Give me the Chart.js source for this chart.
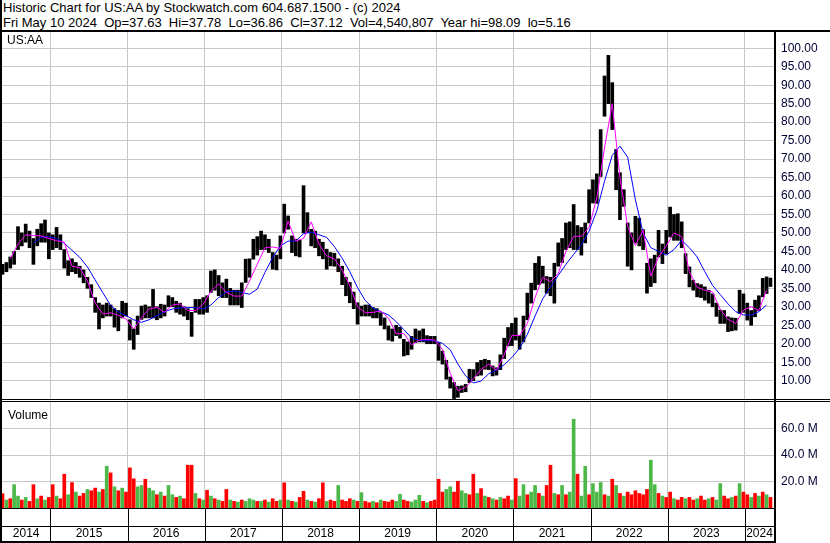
<!DOCTYPE html>
<html><head><meta charset="utf-8">
<script src="https://cdn.jsdelivr.net/npm/chart.js@4"></script>
<style>
html,body{margin:0;padding:0;background:#fff;}
#wrap{position:relative;width:830px;height:543px;overflow:hidden;font-family:"Liberation Sans",Arial,sans-serif;background:#fff;}
.hdr{position:absolute;left:3px;font-size:13px;line-height:15px;white-space:pre;color:#000;}
.ln{position:absolute;background:#000;}
canvas{position:absolute;left:0;}
</style></head><body>
<div id="wrap">
<div class="hdr" style="top:0px">Historic Chart for US:AA by Stockwatch.com 604.687.1500 - (c) 2024</div>
<div class="hdr" style="top:15px">Fri May 10 2024  Op=37.63  Hi=37.78  Lo=36.86  Cl=37.12  Vol=4,540,807  Year hi=98.09  lo=5.16</div>
<canvas id="pc" width="830" height="368" style="top:32px;width:830px;height:368px"></canvas>
<canvas id="vc" width="830" height="143" style="top:400px;width:830px;height:143px"></canvas>
<div class="ln" style="left:0;top:30px;width:830px;height:2px"></div>
<div class="ln" style="left:0;top:0;width:2px;height:543px"></div>
</div>
<script>
// ---- data ----
const barStart = 2014.38, barStep = 0.05;   // one bar per 0.05 year
const maStart = 2014.38, maStep = 0.1;
const priceHi = [
41.5,42,43.5,45,51.7,50,52.4,50.5,48.5,51,
52.5,53.5,50,49.5,51.5,49.5,45.5,42.5,43,42,
41,40,38,36,32.5,31,30.5,31,30.5,29.5,
29,31.5,31,26.5,24,27.5,30.2,30.5,30,34.7,
30,30.7,30.5,33,32.5,31.5,31,30,29.5,28.5,
32,32,32.5,33,39.7,40,38.5,36.5,37.5,35,
34.5,34.5,36.5,42.9,43,48.3,49,50.5,49.5,48.3,
44.7,44,49.2,57.8,54.6,49.2,48.3,48,62.8,55.5,
51,50.5,48.3,47.5,45.6,44.7,44.5,43,41,38,
36.6,34,31.1,30.2,30.5,30.5,29.8,29.5,28.4,27,
24.8,24,25,24.5,21.2,20.5,22,24,23.5,24,
22.2,22,22,20.3,18,15.5,11,9.5,8.5,8.6,
9,13.1,13,14.9,15.5,15.8,15.5,14,13.5,17,
21.5,24.4,25.5,27,22.2,27.5,33.7,36.4,41.8,43.6,
41,38.2,38,41.8,47.3,48.5,52.7,53,57.7,52,
51.5,52.7,61.7,64.4,66,78,92.5,98.09,90.7,72.6,
66.3,61.7,52.7,50,54.5,54,50.9,41.8,43,44,
50.7,47,50.7,57,55,55.2,53,44.4,40.8,37.2,
36.3,36,35.4,34.5,33.5,31,29.1,29,27.3,27,
26.9,34.5,33.5,31,29,31.8,33,37.7,38.1,37.78];
const priceLo = [
38.8,39.5,40.5,41.5,45.5,46.5,47.5,46,41.5,46.5,
47.5,47.5,43,45.5,46,45.5,40.5,38.5,39.5,39,
38,36.5,35,32.5,28.5,24,27,27.5,27.5,24.5,
23.5,27,27.5,21,18.5,22.5,26.6,27,27,27,
26.5,27,27.5,30,30,28.5,28,27.5,26.5,22,
28.5,28,28,28.5,33.9,34.5,33,32.5,32.5,30.5,
30.5,30.5,29.8,36.6,38,42.9,44,45.5,45.5,44.7,
40.2,40,43,50,51,44.7,43.8,43.5,50,50.1,
46.5,46,43.8,43,40.2,41.1,41,39.5,36,33,
31.1,29.5,25.3,27.5,27.5,27.5,27,27,25,24,
21,20.7,22.2,21.5,16.7,17,18.5,20.3,20.5,20.5,
20,20,20,15.5,14.5,10.4,8,5.16,5.5,6.8,
7,9.5,10,11.3,11.5,13.1,13,11.3,11.5,13,
16,19.4,19.5,21,18.5,20.5,26.5,31,34.6,36,
36.4,33.7,33,31,41,42,45.5,46,45.5,45.5,
44,47.3,52.7,58.1,58,65.3,81.6,85,78,61.7,
53.6,57.2,41,40,47.3,46.5,45.5,33.7,35.5,36.5,
43.5,41.7,44.4,48.9,48,48,46,39,35.4,34.5,
32.7,32.5,31.8,31,30,27.4,25.5,25.5,23.3,23.5,
23.7,28.2,28.5,26.4,25,27.3,29,32.7,33.6,35.5];
const maFast = [
null,43,47,49.5,49.3,49.2,48.5,47.9,47.5,41,
40.6,37,31,28,28.4,27.7,26.7,24,27,29.5,
29.8,28.5,30.5,30.8,29,29,30.7,34.2,36.2,33.9,
32.9,32.9,37,41.5,46,46.2,45.8,53.2,47.8,48.5,
53,47,43.8,43,40,35.7,30,28.4,28.5,28.9,
27,22.7,22.8,19.7,21,21.2,21,18.5,12,7.3,
8.2,10.5,13,14.5,12.8,17,22.3,22.2,25.5,32.5,
38,36.8,39,45,49.1,49.1,51.5,59.5,73,85,
65,51.7,46.6,50.8,38.3,43.5,46.5,50,49,39.5,
35.3,34.5,34,29.3,26.6,25.5,29.1,30,29,34.5];
const maSlow = [
null,null,null,null,47.2,48.8,49,48.5,47.2,45.3,
43.4,40.8,37.3,33.8,30.4,28.6,27.6,26.5,25.8,26.5,
27.6,28.7,29.4,29.7,29.8,29.8,29.4,30.5,32.5,34,
34.3,33.9,33.4,34.8,39.3,43.3,46.5,47.8,47.8,49.8,
50.2,49.5,48.8,46.3,43.2,39.5,35.2,31.7,29.7,28.7,
27.8,26,23.8,21.6,20.9,20.8,20.8,20.1,18.4,14.5,
11.3,9.4,9.9,11.9,12.8,14.3,16.3,18.8,22.5,27.5,
32.2,35.3,38.5,41.5,44.2,46.8,50.5,56,64,71,
73.5,70.5,59,50,46,45,44,45.5,48,46,
43.5,39.5,35.8,33.3,30.8,28.7,27.8,27.8,28.7,30.5];
const volumeM = [
10.8,6,7,17.6,9,6,8,5,17.6,7,
9,6,8,17.6,9,7,25.5,10,19.2,12,
9,11,14,13,15,12,14,31.5,26.5,16,
13,15,12,30.3,22,16,17,21.7,15,13,
10,12,9,17,10,8,9,7,32.3,32.3,
11,7,6,13.4,9,7,6,5,14,6,
5,4.5,6,5,7,6,5,5,6,4.5,
7,5,6,19,6,5,4.5,8,12.6,6,
5,4.5,7,19,5,6,5,17,6,5,
7,6,5,11.6,5,4,5,4,6,5,
4.5,6,5,10.3,6,5,4.5,6,9.6,5,
4,5,6,21.7,12,14,16,12,20.2,13,
11,10,25.5,11,14.6,9,8,7,6,8,
7,9,6,22.2,9,17.6,10,12,17,11,
9,17,32.3,11,10,17,10,12,67,25.5,
9,31.5,10,18.4,12,19.2,10,9,21.7,17,
11,9,12,10,13,11,10,14,36.1,17.6,
11,9,8,12,7,6,8,7,8,6,
7,9,6,7,8,6,18.4,9,7,8,
9,18.4,12,10,8,11,9,12,10,8];
const volumeDir =
"rgrggrgrrg"+"rgrrgrrgrg"+"rrgrrgrgrg"+"rgrrrggrgg"+"rgrggrgrrr"+
"grgrgrgrrg"+"rgrgggrgrg"+"rrgrgrgrrg"+"rgrrgrrgrr"+"rgrgrrgrgr"+
"rrggrrgggr"+"grrrrggrrg"+"grrgrgrgrg"+"rrgrggrggr"+"grrgrgrggr"+
"ggrgggrgrg"+"rgrrrrrrgg"+"rgrrgrrgrr"+"grrgrggrrg"+"rgrrgrgrgr";
const priceTicks = [10,15,20,25,30,35,40,45,50,55,60,65,70,75,80,85,90,95,100];
const volumeTicks = [20,40,60];
const yearEdges = [2015,2016,2017,2018,2019,2020,2021,2022,2023,2024];
const yearLabels = ['2014','2015','2016','2017','2018','2019','2020','2021','2022','2023','2024'];
const xMin = 2014.373, xMax = 2024.376;

// ---- build ----
const FONT = '"Liberation Sans", Arial, sans-serif';
const bars = priceHi.map((h,i)=>({x: barStart+i*barStep, y:[priceLo[i], h]}));
const fast = maFast.map((v,k)=>({x: maStart+k*maStep, y:v}));
const slow = maSlow.map((v,k)=>({x: maStart+k*maStep, y:v}));
const vols = volumeM.map((v,i)=>({x: barStart+i*barStep, y:v}));
const volColors = volumeM.map((v,i)=> volumeDir[i]==='g' ? '#4cb847' : '#ff0000');

const xScale = {
  type:'linear', min:xMin, max:xMax, offset:false,
  grid:{color:'#c8c8c8', drawTicks:false, offset:false, lineWidth:1},
  border:{display:false},
  ticks:{display:false},
  afterBuildTicks(s){ s.ticks = yearEdges.map(v=>({value:v})); },
};

const priceFrame = {
  id:'priceFrame',
  afterDraw(c){
    const {ctx, chartArea:a} = c;
    ctx.save();
    ctx.fillStyle='#fff';
    ctx.fillRect(a.left, a.top, 47, 15);
    ctx.fillStyle='#000';
    ctx.font='12px '+FONT;
    ctx.textBaseline='alphabetic';
    ctx.fillText('US:AA', 7, 12);
    ctx.fillRect(0, a.bottom, c.width, 1);
    ctx.fillRect(a.right, 0, 2, c.height);
    ctx.restore();
  }
};

new Chart(document.getElementById('pc'), {
  type:'bar',
  data:{datasets:[
    {type:'line', data:fast, borderColor:'#ff00ff', borderWidth:1, pointRadius:0, order:1, spanGaps:false},
    {type:'line', data:slow, borderColor:'#0000ff', borderWidth:1, pointRadius:0, order:2, spanGaps:false},
    {type:'bar', data:bars, backgroundColor:'#000', barThickness:3, order:3}
  ]},
  options:{
    responsive:false, animation:false, devicePixelRatio:1,
    layout:{padding:{left:2, top:0, right:0, bottom:1}},
    plugins:{legend:{display:false}, tooltip:{enabled:false}},
    scales:{
      x: Object.assign({}, xScale, {afterFit(s){ s.height=0; s.paddingLeft=0; s.paddingRight=0; }}),
      y:{
        position:'right', min:5.04, max:104.41,
        grid:{color:'#c8c8c8', drawTicks:false},
        border:{display:false},
        ticks:{color:'#000033', padding:7, font:{family:FONT, size:12}, callback:v=>Number(v).toFixed(2)},
        afterBuildTicks(s){ s.ticks = priceTicks.map(v=>({value:v})); },
        afterFit(s){ s.width=56; s.paddingTop=0; s.paddingBottom=0; }
      }
    }
  },
  plugins:[priceFrame]
});

const volFrame = {
  id:'volFrame',
  afterDraw(c){
    const {ctx, chartArea:a, scales:{x}} = c;
    ctx.save();
    ctx.fillStyle='#000';
    ctx.fillRect(0, a.top-1, c.width, 1);
    ctx.fillRect(0, a.bottom, a.right, 1);
    ctx.fillRect(0, a.bottom+18, a.right, 1);
    ctx.fillRect(0, a.bottom+33, a.right, 2);
    ctx.fillRect(a.right, 0, 2, a.bottom+35);
    yearEdges.forEach(v=>{ const px=Math.round(x.getPixelForValue(v)); ctx.fillRect(px, a.bottom, 1, 33); });
    ctx.font='12px '+FONT;
    ctx.textAlign='center'; ctx.textBaseline='middle';
    yearLabels.forEach(lab=>{
      const yr = +lab;
      const l = x.getPixelForValue(Math.max(yr, x.min));
      const r = x.getPixelForValue(Math.min(yr+1, x.max));
      ctx.fillText(lab, (l+r)/2, a.bottom+26);
    });
    ctx.textAlign='left'; ctx.textBaseline='alphabetic';
    ctx.fillText('Volume', 8, a.top+17);
    ctx.restore();
  }
};

new Chart(document.getElementById('vc'), {
  type:'bar',
  data:{datasets:[
    {data:vols, backgroundColor:volColors, barThickness:3}
  ]},
  options:{
    responsive:false, animation:false, devicePixelRatio:1,
    layout:{padding:{left:2, top:2, right:0, bottom:0}},
    plugins:{legend:{display:false}, tooltip:{enabled:false}},
    scales:{
      x: Object.assign({}, xScale, {afterFit(s){ s.height=35; s.paddingLeft=0; s.paddingRight=0; }}),
      y:{
        position:'right', min:0, max:80,
        grid:{color:'#c8c8c8', drawTicks:false},
        border:{display:false},
        ticks:{color:'#000033', padding:7, font:{family:FONT, size:12}, callback:v=>Number(v).toFixed(1)+' M'},
        afterBuildTicks(s){ s.ticks = volumeTicks.map(v=>({value:v})); },
        afterFit(s){ s.width=56; s.paddingTop=0; s.paddingBottom=0; }
      }
    }
  },
  plugins:[volFrame]
});
</script>
</body></html>
